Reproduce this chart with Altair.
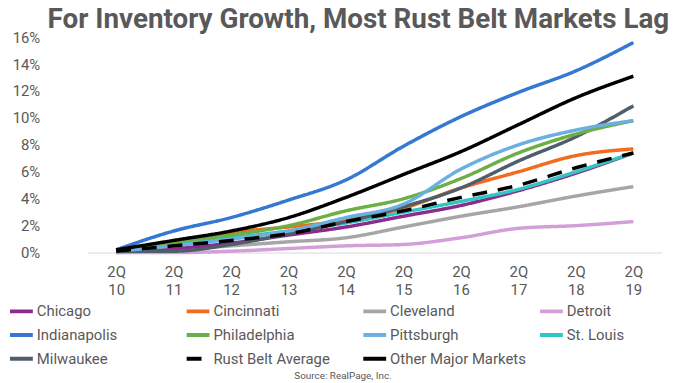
import altair as alt
import pandas as pd

quarters = ["2Q10", "2Q11", "2Q12", "2Q13", "2Q14", "2Q15", "2Q16", "2Q17", "2Q18", "2Q19"]

chicago = [0.1, 0.3, 0.7, 1.3, 1.9, 2.7, 3.5, 4.6, 5.9, 7.4]
cincinnati = [0.2, 0.8, 1.5, 1.9, 2.4, 3.3, 4.8, 6.0, 7.2, 7.7]
cleveland = [0.0, 0.2, 0.5, 0.8, 1.1, 1.9, 2.7, 3.4, 4.2, 4.9]
detroit = [0.0, 0.0, 0.1, 0.3, 0.5, 0.6, 1.1, 1.8, 2.0, 2.3]
indianapolis = [0.2, 1.6, 2.6, 3.9, 5.4, 7.9, 10.1, 11.9, 13.5, 15.6]
philadelphia = [0.2, 0.8, 1.3, 2.0, 3.1, 4.0, 5.5, 7.4, 8.8, 9.8]
pittsburgh = [0.1, 0.5, 1.0, 1.6, 2.6, 3.6, 6.2, 8.0, 9.1, 9.8]
st_louis = [0.1, 0.6, 1.1, 1.6, 2.2, 3.0, 3.8, 4.7, 6.0, 7.4]
milwaukee = [0.1, 0.1, 0.6, 1.4, 2.3, 3.4, 4.8, 6.8, 8.6, 10.9]
rust_belt_avg = [0.1, 0.5, 0.9, 1.4, 2.3, 3.1, 4.1, 5.0, 6.3, 7.4]
other_major = [0.2, 0.9, 1.6, 2.6, 4.1, 5.8, 7.5, 9.5, 11.5, 13.1]

series_names = ["Chicago", "Cincinnati", "Cleveland", "Detroit", "Indianapolis",
                "Philadelphia", "Pittsburgh", "St. Louis", "Milwaukee",
                "Rust Belt Average", "Other Major Markets"]
series_values = [chicago, cincinnati, cleveland, detroit, indianapolis,
                 philadelphia, pittsburgh, st_louis, milwaukee,
                 rust_belt_avg, other_major]
series_colors = ["#8B2C8C", "#F26B21", "#A6A6A6", "#D49FD8", "#3478D1",
                 "#6DAE45", "#6AB0E0", "#33C4C4", "#4F5E6B", "#000000", "#000000"]
series_dash = [[1, 0]] * 9 + [[15, 11], [1, 0]]

# the legend fills column by column (3 rows), so order the domain so it reads row by row
legend_order = ["Chicago", "Indianapolis", "Milwaukee",
                "Cincinnati", "Philadelphia", "Rust Belt Average",
                "Cleveland", "Pittsburgh", "Other Major Markets",
                "Detroit", "St. Louis"]
legend_colors = [series_colors[series_names.index(n)] for n in legend_order]
legend_dash = [series_dash[series_names.index(n)] for n in legend_order]

# draw order: put the dashed average and black line on top
draw_order = ["Detroit", "Cleveland", "Chicago", "St. Louis", "Cincinnati", "Milwaukee",
              "Philadelphia", "Pittsburgh", "Indianapolis", "Other Major Markets",
              "Rust Belt Average"]

rows = []
for name in draw_order:
    vals = series_values[series_names.index(name)]
    for q, v in zip(quarters, vals):
        rows.append({"Quarter": q, "Market": name, "Growth": v})
df = pd.DataFrame(rows)

FONT = "Roboto"
GRAY = "#595959"

chart = alt.Chart(df).mark_line(strokeWidth=3.5, interpolate="monotone").encode(
    x=alt.X("Quarter:O", sort=quarters,
            scale=alt.Scale(type="point", range=[33, 612]),
            axis=alt.Axis(title="Source: RealPage, Inc.", labelAngle=0,
                          labelExpr="['2Q', slice(datum.value, 2)]",
                          labelLineHeight=18, labelFontSize=15, labelColor=GRAY,
                          labelFont=FONT, labelPadding=12, ticks=False,
                          domainColor="#D9D9D9", domainWidth=1,
                          titleFont=FONT, titleFontSize=10, titleFontWeight="normal",
                          titleColor=GRAY, titleX=290, titleY=124,
                          titleBaseline="middle", titleAnchor="middle")),
    y=alt.Y("Growth:Q", scale=alt.Scale(domain=[0, 16], nice=False),
            axis=alt.Axis(title=None, values=list(range(0, 17, 2)),
                          labelExpr="datum.value + '%'", labelFontSize=15,
                          labelColor=GRAY, labelFont=FONT, labelPadding=15,
                          ticks=False, domain=False, grid=False)),
    color=alt.Color("Market:N",
                    scale=alt.Scale(domain=legend_order, range=legend_colors),
                    legend=alt.Legend(title=None, orient="none", legendX=-47,
                                      legendY=262.5, columns=4, gridAlign="all",
                                      columnPadding=6, rowPadding=2,
                                      symbolType="stroke", symbolSize=529,
                                      symbolStrokeWidth=4, labelOffset=2,
                                      labelFontSize=15, labelFont=FONT,
                                      labelColor=GRAY, labelLimit=200)),
    strokeDash=alt.StrokeDash("Market:N",
                              scale=alt.Scale(domain=legend_order, range=legend_dash),
                              legend=None),
).properties(
    width=622, height=217,
    autosize=alt.AutoSizeParams(type="none"),
    padding={"left": 47, "top": 28, "right": 0, "bottom": 128},
    title=alt.TitleParams("For Inventory Growth, Most Rust Belt Markets Lag",
                          font=FONT, fontSize=28, fontWeight="bold", color=GRAY,
                          anchor="middle", offset=0, dy=4, dx=-5),
).configure_view(stroke=None)

chart.save("out.html", embed_options={"renderer": "svg", "actions": False})
